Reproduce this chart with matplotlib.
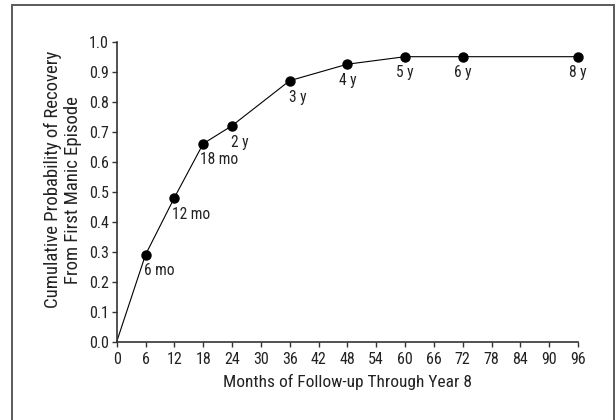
import matplotlib.pyplot as plt
from matplotlib.patches import Rectangle

months = [0, 6, 12, 18, 24, 36, 48, 60, 72, 96]
recovery = [0.0, 0.29, 0.48, 0.66, 0.72, 0.87, 0.925, 0.95, 0.95, 0.95]
point_labels = ["", "6 mo", "12 mo", "18 mo", "2 y", "3 y", "4 y", "5 y", "6 y", "8 y"]
xticks = list(range(0, 97, 6))
yticks = [i / 10 for i in range(11)]

plt.rcParams['font.family'] = ['Roboto Condensed', 'DejaVu Sans']
text_color = "#222222"

fig = plt.figure(figsize=(6.16, 4.2), dpi=100)
ax = fig.add_axes([116.7 / 616, 1 - 341.7 / 420, (578 - 116.7) / 616, 300 / 420])

# grey frame round the figure, open at the bottom
fig.patches.append(Rectangle((12 / 616, -0.05), 602 / 616, 1.05 - 5.5 / 420,
                             transform=fig.transFigure, fill=False,
                             edgecolor="#5a5a5a", linewidth=1.4))

ax.plot(months, recovery, color="black", linewidth=0.8, clip_on=False)
ax.plot(months[1:], recovery[1:], "o", color="black", markersize=6.5, clip_on=False)

# where each label sits: (dx, dy) in points, horizontal alignment
place = {
    "6 mo": (-1, -6, "left"),
    "12 mo": (-2, -7, "left"),
    "18 mo": (-2, -6, "left"),
    "2 y": (-0.5, -6.5, "left"),
    "3 y": (-0.7, -6.5, "left"),
    "4 y": (0, -6, "center"),
    "5 y": (0, -6, "center"),
    "6 y": (0, -6, "center"),
    "8 y": (0, -6, "center"),
}
for x, y, lab in zip(months, recovery, point_labels):
    if not lab:
        continue
    dx, dy, ha = place[lab]
    ax.annotate(lab, (x, y), xytext=(dx, dy), textcoords="offset points",
                ha=ha, va="top", fontsize=11.2, color=text_color)

ax.set_xlim(0, 96)
ax.set_ylim(0, 1.0)
ax.set_xticks(xticks)
ax.set_yticks(yticks)
ax.set_yticklabels([f"{v:.1f}" for v in yticks])
ax.spines["top"].set_visible(False)
ax.spines["right"].set_visible(False)
for s in ("left", "bottom"):
    ax.spines[s].set_linewidth(1.2)
    ax.spines[s].set_color("#333333")
ax.tick_params(direction="out", length=3.6, width=1, colors="#333333",
               labelcolor=text_color, labelsize=11.5)
ax.tick_params(axis="x", pad=4)
ax.tick_params(axis="y", pad=2)

ax.set_xlabel("Months of Follow-up Through Year 8", fontsize=12.5, color=text_color, labelpad=5)

fig.text(53 / 616, 1 - 179 / 420, "Cumulative Probability of Recovery", rotation=90,
         ha="center", va="center", fontsize=13.5, color=text_color)
fig.text(72.5 / 616, 1 - 190 / 420, "From First Manic Episode", rotation=90,
         ha="center", va="center", fontsize=13.5, color=text_color)

fig.savefig("out.png", dpi=100)
